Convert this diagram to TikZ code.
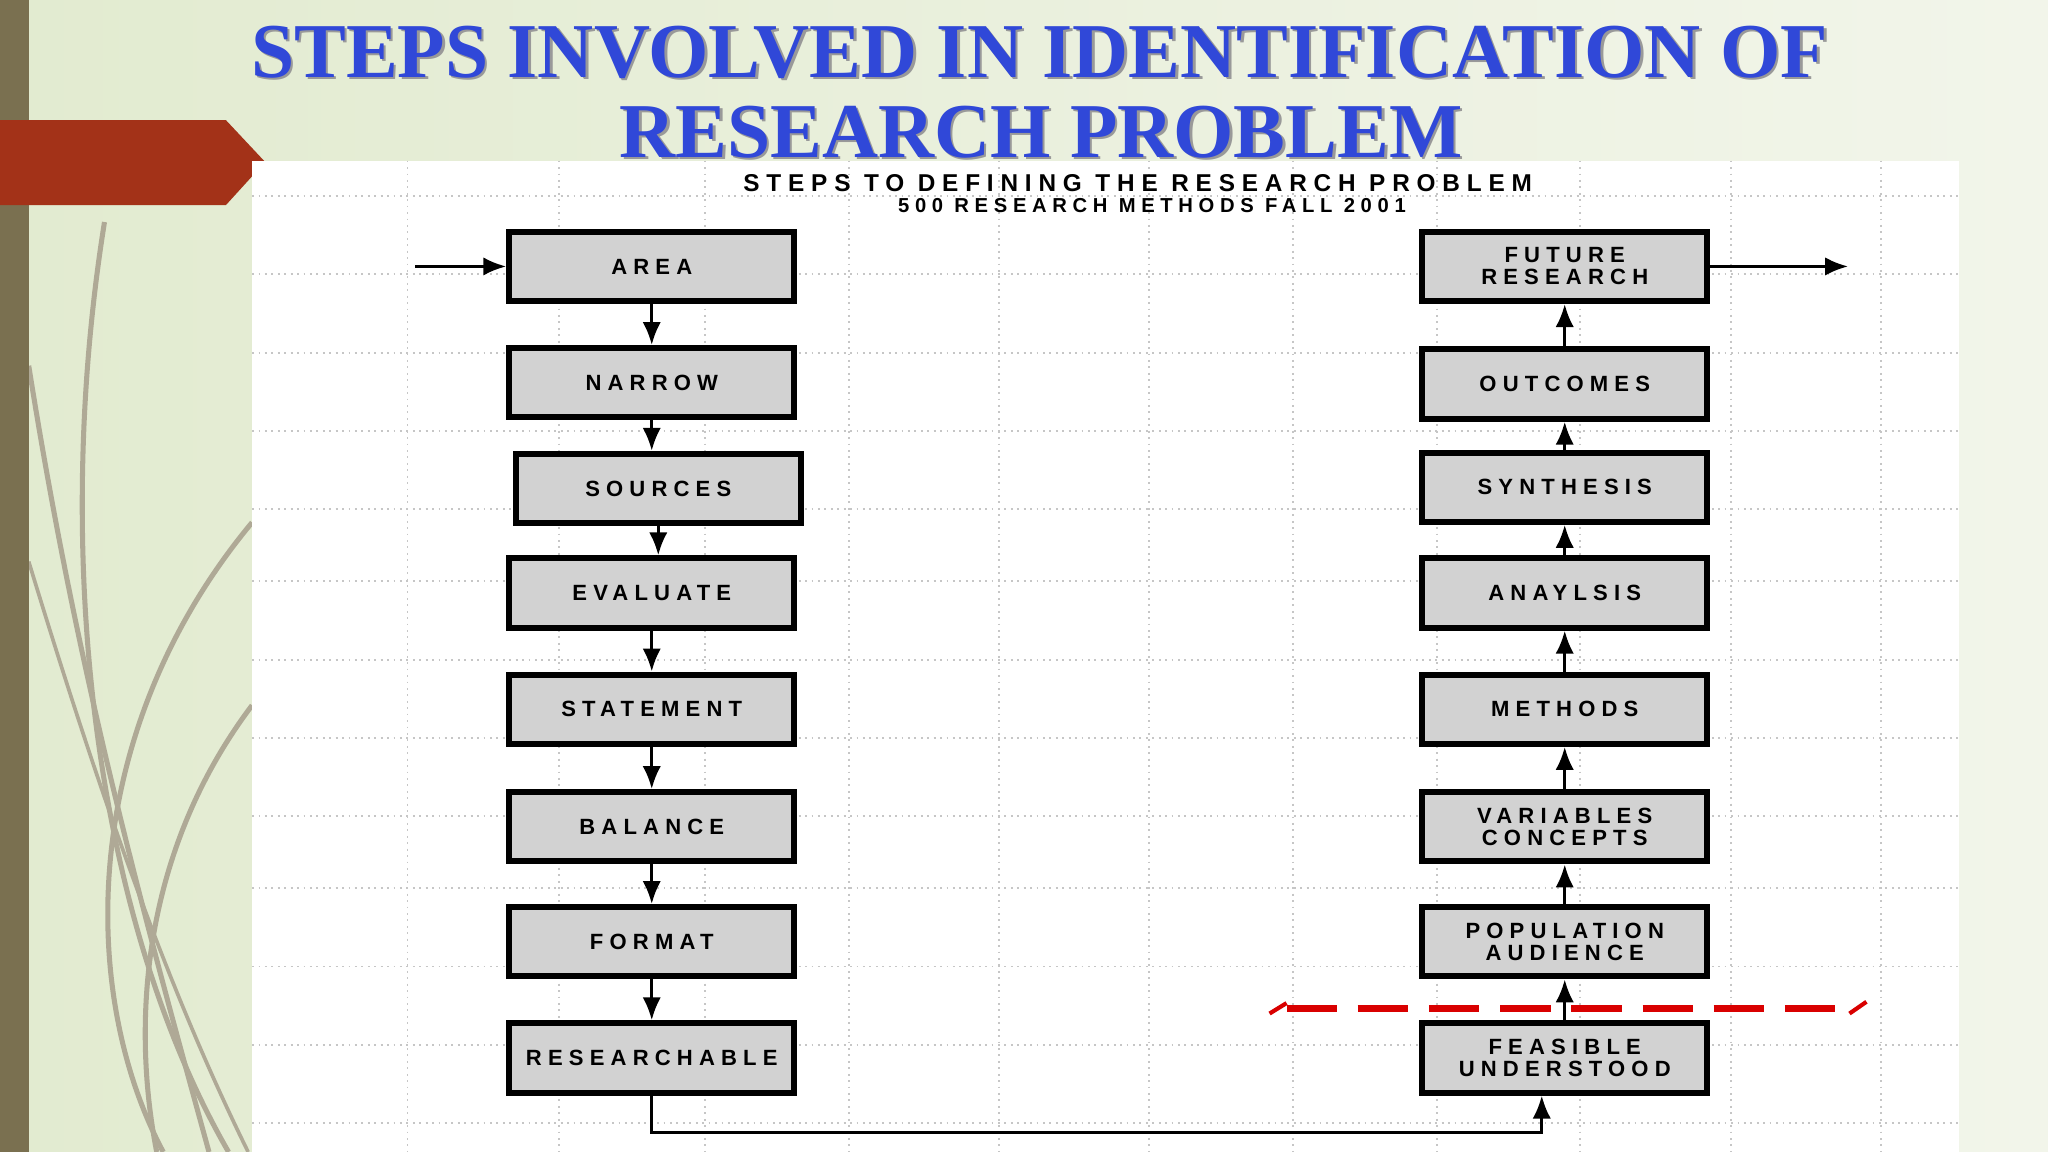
\documentclass[tikz,border=0pt]{standalone}
\usepackage{fontspec}
\setmainfont{Liberation Serif}
\newfontfamily\boxfont[LetterSpace=28]{Liberation Sans}
\usetikzlibrary{arrows.meta,shadows}
\definecolor{bgA}{HTML}{E2EBD0}
\definecolor{bgB}{HTML}{F2F5EA}
\definecolor{olivebar}{HTML}{7A7050}
\definecolor{tabred}{HTML}{A33218}
\definecolor{ttlblue}{HTML}{3048D8}
\definecolor{boxgray}{HTML}{D2D2D2}
\tikzset{
  stepbox/.style={draw=black, line width=1.3pt, fill=boxgray, minimum width=2.18cm, minimum height=0.53cm,
    align=center, font=\boxfont\bfseries\fontsize{4.8}{4.8}\selectfont,
    drop shadow={shadow xshift=0.02cm, shadow yshift=-0.02cm, fill=black, opacity=1}},
  flow/.style={-{Latex[length=5pt,width=4pt]}, line width=0.7pt},
  grid/.style={gray!45, densely dotted, line width=0.4pt},
  deco/.style={olivebar!60, line width=1.1pt}
}
\begin{document}
\begin{tikzpicture}[x=0.01cm,y=-0.01cm]
\useasboundingbox (0,0) rectangle (1568,882);
\shade[left color=bgA, right color=bgB] (0,0) rectangle (1568,882);
% decorative curves
\draw[deco] (80,170) .. controls (40,420) and (70,700) .. (175,882);
\draw[deco] (22,280) .. controls (60,520) and (110,700) .. (160,882);
\draw[deco] (193,400) .. controls (60,560) and (60,760) .. (125,882);
\draw[deco] (193,540) .. controls (110,650) and (100,780) .. (120,882);
\draw[deco, line width=0.8pt] (22,430) .. controls (80,620) and (130,760) .. (190,882);
\fill[olivebar] (0,0) rectangle (22,882);
\fill[tabred] (0,92) -- (173,92) -- (203,124) -- (173,157) -- (0,157) -- cycle;
% panel
\fill[white] (193,123) rectangle (1500,882);
\foreach \x in {312,428,540,650,765,880,990,1100,1210,1325,1440} \draw[grid] (\x,123) -- (\x,882);
\foreach \y in {150,210,270,330,390,445,505,565,625,680,740,800,860} \draw[grid] (193,\y) -- (1500,\y);
% title
\node[text=black!40, font=\bfseries\fontsize{16.9}{18}\selectfont] at (798,42) {STEPS INVOLVED IN IDENTIFICATION OF};
\node[text=black!40, font=\bfseries\fontsize{16.9}{18}\selectfont] at (799,103) {RESEARCH PROBLEM};
\node (t1) [text=ttlblue, font=\bfseries\fontsize{16.9}{18}\selectfont] at (796,40) {STEPS INVOLVED IN IDENTIFICATION OF};
\node (t2) [text=ttlblue, font=\bfseries\fontsize{16.9}{18}\selectfont] at (797,101) {RESEARCH PROBLEM};
\node (s1) [font=\boxfont\bfseries\fontsize{5.3}{5.3}\selectfont] at (871,140) {STEPS TO DEFINING THE RESEARCH PROBLEM};
\node (s2) [font=\boxfont\bfseries\fontsize{4.4}{4.4}\selectfont] at (882,157) {500 RESEARCH METHODS FALL 2001};
% left column
\node[stepbox] (area) at (499,204) {AREA};
\node[stepbox] (narrow) at (499,293) {NARROW};
\node[stepbox] (sources) at (504,374) {SOURCES};
\node[stepbox] (eval) at (499,454) {EVALUATE};
\node[stepbox] (stmt) at (499,543) {STATEMENT};
\node[stepbox] (bal) at (499,633) {BALANCE};
\node[stepbox] (fmt) at (499,721) {FORMAT};
\node[stepbox] (res) at (499,810) {RESEARCHABLE};
% right column
\node[stepbox] (fut) at (1198,204) {FUTURE\\RESEARCH};
\node[stepbox] (out) at (1198,294) {OUTCOMES};
\node[stepbox] (syn) at (1198,373) {SYNTHESIS};
\node[stepbox] (ana) at (1198,454) {ANAYLSIS};
\node[stepbox] (meth) at (1198,543) {METHODS};
\node[stepbox] (var) at (1198,633) {VARIABLES\\CONCEPTS};
\node[stepbox] (pop) at (1198,721) {POPULATION\\AUDIENCE};
\node[stepbox] (feas) at (1198,810) {FEASIBLE\\UNDERSTOOD};
\coordinate (in) at (318,204);
\coordinate (outp) at (1415,204);
\draw[flow] (in) -- (area);
\draw[flow] (fut) -- (outp);
\draw[flow] (area) -- (narrow);
\draw[flow] (narrow.south) -- (narrow.south|-sources.north);
\draw[flow] (sources.south) -- (sources.south|-eval.north);
\draw[flow] (eval) -- (stmt);
\draw[flow] (stmt) -- (bal);
\draw[flow] (bal) -- (fmt);
\draw[flow] (fmt) -- (res);
\draw[flow] (feas) -- (pop);
\draw[flow] (pop) -- (var);
\draw[flow] (var) -- (meth);
\draw[flow] (meth) -- (ana);
\draw[flow] (ana) -- (syn);
\draw[flow] (syn) -- (out);
\draw[flow] (out) -- (fut);
\draw[flow] (res.south) -- ++(0,28) -| ([xshift=-5pt]feas.south);
% red dashed line
\draw[red!85!black, line width=1.6pt, dash pattern=on 11pt off 4.5pt] (985,772) -- (1418,772);
\draw[red!85!black, line width=0.9pt] (972,776) -- (985,768);
\draw[red!85!black, line width=0.9pt] (1416,776) -- (1429,767);
\end{tikzpicture}
\end{document}
